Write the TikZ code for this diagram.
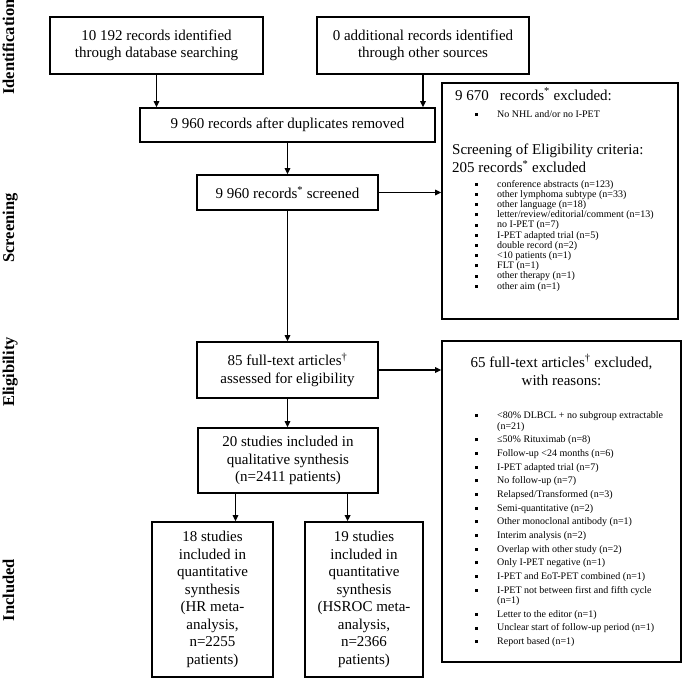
\documentclass[tikz,border=0pt]{standalone}
\usepackage{fontspec}
\setmainfont{Liberation Serif}
\usetikzlibrary{arrows.meta,calc}
\newcommand\bul{\makebox[22pt][l]{\rule[1.3pt]{3pt}{3pt}}}
\newcommand\bitem[3]{\node[itm] (#1) at (475,#2) {\bul #3};}
\newcommand\citem[3]{\node[itm] (#1) at (497,#2) {#3};}
\begin{document}
\begin{tikzpicture}[x=1pt,y=-1pt,
  box/.style={draw, line width=1.6pt, inner sep=0pt, align=center, font=\fontsize{15}{17.5}\selectfont},
  frame/.style={draw, line width=1.6pt, inner sep=0pt},
  arr/.style={line width=1.4pt, -{Triangle[length=6pt,width=5.5pt]}},
  lab/.style={rotate=90, anchor=base, inner sep=0pt, font=\fontsize{16.5}{18}\selectfont\bfseries},
  itm/.style={anchor=base west, inner sep=0pt, font=\fontsize{10}{12}\selectfont},
  hdr/.style={anchor=base west, inner sep=0pt, font=\fontsize{15}{18}\selectfont},
]
\useasboundingbox (0,0) rectangle (685,681);

% phase labels
\node[lab] (l1) at (14,47) {Identification};
\node[lab] (l2) at (14,228) {Screening};
\node[lab] (l3) at (14,372) {Eligibility};
\node[lab] (l4) at (14,590) {Included};

% main column
\node[box, minimum width=213pt, minimum height=57pt] (A) at (156.5,45.5) {10 192 records identified\\through database searching};
\node[box, minimum width=212pt, minimum height=57pt] (B) at (423,45.5) {0 additional records identified\\through other sources};
\node[box, minimum width=295pt, minimum height=34pt] (C) at (287.5,125) {9 960 records after duplicates removed};
\node[box, minimum width=181pt, minimum height=35pt] (D) at (287.5,192.5) {9 960 records\textsuperscript{*} screened};
\node[box, minimum width=181pt, minimum height=56pt] (E) at (287.5,370) {85 full-text articles\textsuperscript{†}\\assessed for eligibility};
\node[box, minimum width=180pt, minimum height=65pt] (F) at (288,460.5) {20 studies included in\\qualitative synthesis\\(n=2411 patients)};
\node[box, minimum width=121pt, minimum height=155pt] (G) at (212.5,599.5) {18 studies\\included in\\quantitative\\synthesis\\(HR meta-\\analysis,\\n=2255\\patients)};
\node[box, minimum width=118pt, minimum height=155pt] (H) at (364,599.5) {19 studies\\included in\\quantitative\\synthesis\\(HSROC meta-\\analysis,\\n=2366\\patients)};

% exclusion boxes
\node[frame, minimum width=236pt, minimum height=236pt] (R1) at (560,201) {};
\node[frame, minimum width=239pt, minimum height=321pt] (R2) at (561.5,501.5) {};

% connectors
\draw[arr] (A.south) -- (A.south |- C.north);
\draw[arr] (B.south) -- (B.south |- C.north);
\draw[arr] (C.south) -- (D.north);
\draw[arr] (D.east) -- (D.east -| R1.west);
\draw[arr] (D.south) -- (E.north);
\draw[arr] (E.east) -- (E.east -| R2.west);
\draw[arr] (E.south) -- (E.south |- F.north);
\coordinate (f1) at ($(F.south west)!0.211!(F.south east)$);
\coordinate (f2) at ($(F.south west)!0.828!(F.south east)$);
\draw[arr] (f1) -- (f1 |- G.north);
\draw[arr] (f2) -- (f2 |- H.north);

% R1 contents
\node[hdr] (r1h1) at (455,100) {9 670\hspace{11pt}records\textsuperscript{*} excluded:};
\node[itm] (r1n) at (475,117.5) {\bul No NHL and/or no I-PET};
\node[hdr] (r1h2) at (452,154) {Screening of Eligibility criteria:};
\node[hdr] (r1h3) at (452,172.5) {205 records\textsuperscript{*} excluded};
\foreach \t [count=\i from 0] in {{conference abstracts (n=123)},{other lymphoma subtype (n=33)},{other language (n=18)},{letter/review/editorial/comment (n=13)},{no I-PET (n=7)},{I-PET adapted trial (n=5)},{double record (n=2)},{<10 patients (n=1)},{FLT (n=1)},{other therapy (n=1)},{other aim (n=1)}}
  \node[itm] (r1i\i) at (475,{187+10.2*\i}) {\bul\t};

% R2 contents
\node[hdr, anchor=base] (r2h1) at (561.5,367) {65 full-text articles\textsuperscript{†} excluded,};
\node[hdr, anchor=base] (r2h2) at (561.5,385.5) {with reasons:};
\bitem{r2a}{418.5}{<80\% DLBCL + no subgroup extractable}
\citem{r2a2}{429}{(n=21)}
\bitem{r2b}{442.7}{≤50\% Rituximab (n=8)}
\bitem{r2c}{456.3}{Follow-up <24 months (n=6)}
\bitem{r2d}{470}{I-PET adapted trial (n=7)}
\bitem{r2e}{483.7}{No follow-up (n=7)}
\bitem{r2f}{497.4}{Relapsed/Transformed (n=3)}
\bitem{r2g}{511}{Semi-quantitative (n=2)}
\bitem{r2h}{524.7}{Other monoclonal antibody (n=1)}
\bitem{r2i}{538.4}{Interim analysis (n=2)}
\bitem{r2j}{552}{Overlap with other study (n=2)}
\bitem{r2k}{565.7}{Only I-PET negative (n=1)}
\bitem{r2l}{579.4}{I-PET and EoT-PET combined (n=1)}
\bitem{r2m}{593}{I-PET not between first and fifth cycle}
\citem{r2m2}{603.5}{(n=1)}
\bitem{r2n}{617.2}{Letter to the editor (n=1)}
\bitem{r2o}{630.9}{Unclear start of follow-up period (n=1)}
\bitem{r2p}{644.5}{Report based (n=1)}
\end{tikzpicture}
\end{document}
